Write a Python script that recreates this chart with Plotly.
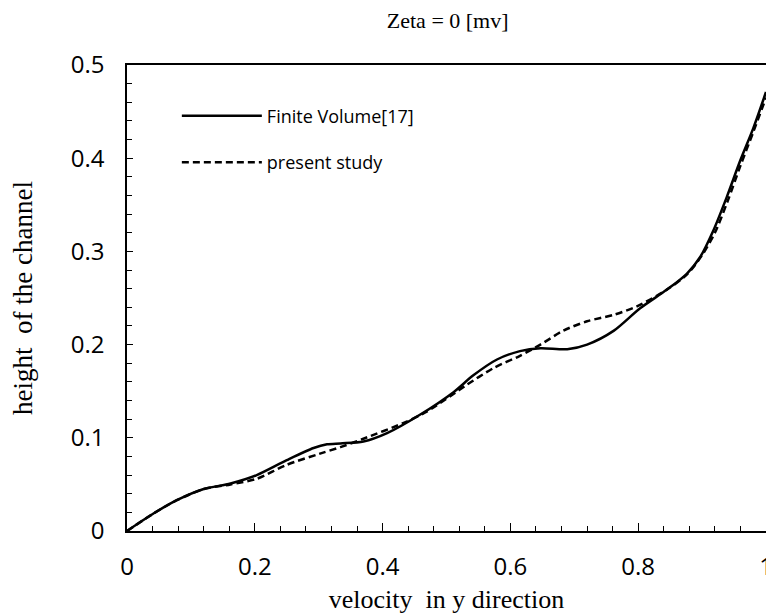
import plotly.graph_objects as go

# Finite Volume[17] (solid)
fv_x = [0, 0.042, 0.078, 0.12, 0.162, 0.203, 0.25, 0.292, 0.313, 0.334, 0.37, 0.407,
        0.459, 0.511, 0.542, 0.579, 0.615, 0.647, 0.689, 0.72, 0.762, 0.803, 0.845,
        0.876, 0.897, 0.918, 0.939, 0.96, 0.98, 1.0]
fv_y = [0, 0.019, 0.033, 0.045, 0.051, 0.060, 0.076, 0.089, 0.093, 0.094, 0.096, 0.105,
        0.125, 0.149, 0.167, 0.184, 0.193, 0.196, 0.195, 0.200, 0.215, 0.239, 0.259,
        0.276, 0.294, 0.323, 0.359, 0.398, 0.432, 0.471]

# present study (dashed)
ps_x = [0, 0.042, 0.078, 0.12, 0.162, 0.203, 0.25, 0.302, 0.334, 0.37, 0.433, 0.469,
        0.532, 0.574, 0.615, 0.647, 0.683, 0.72, 0.762, 0.798, 0.845, 0.876, 0.9, 0.92,
        0.94, 0.96, 0.98, 1.0]
ps_y = [0, 0.019, 0.033, 0.045, 0.050, 0.056, 0.071, 0.083, 0.090, 0.099, 0.116, 0.128,
        0.157, 0.175, 0.188, 0.200, 0.215, 0.225, 0.232, 0.241, 0.259, 0.275, 0.296, 0.32,
        0.354, 0.392, 0.428, 0.465]

serif = 'Liberation Serif, Times New Roman, serif'
sans = 'Open Sans, Lato, sans-serif'

fig = go.Figure()
fig.add_trace(go.Scatter(
    x=fv_x, y=fv_y, mode='lines', name='Finite Volume[17]', legendgroup='fv',
    line=dict(color='black', width=2.5, shape='spline', smoothing=0.8)
))
fig.add_trace(go.Scatter(
    x=ps_x, y=ps_y, mode='lines', name='present study', legendgroup='ps',
    line=dict(color='black', width=2.5, dash='7px,4px', shape='spline', smoothing=0.8)
))

# page body has an 8px margin, so the figure is a bit smaller than the window
fig.update_layout(
    width=766, height=606,
    plot_bgcolor='white', paper_bgcolor='white',
    margin=dict(l=119, r=8, t=57, b=83),
    title=dict(text='Zeta = 0 [mv]', x=0.574, xanchor='center', y=0.98, yanchor='middle',
               font=dict(family=serif, size=22, color='black')),
    legend=dict(x=0.078, y=0.93, xanchor='left', yanchor='top',
                font=dict(family=sans, size=18, color='black'),
                itemwidth=80, tracegroupgap=20, bgcolor='rgba(0,0,0,0)'),
    xaxis=dict(
        range=[0, 1], dtick=0.2, showgrid=False, zeroline=False, automargin=False,
        showline=True, linecolor='black', linewidth=1.5, mirror=True,
        ticks='inside', ticklen=8, tickcolor='black', ticklabelstandoff=13,
        tickfont=dict(family=sans, size=24, color='black'),
        minor=dict(dtick=0.04, ticks='inside', ticklen=5, tickcolor='black'),
        title=dict(text='velocity&nbsp; in y direction', standoff=10,
                   font=dict(family=serif, size=26, color='black')),
    ),
    yaxis=dict(
        range=[0, 0.5], dtick=0.1, showgrid=False, zeroline=False, automargin=False,
        showline=True, linecolor='black', linewidth=1.5, mirror=True,
        ticks='inside', ticklen=6, tickcolor='black', ticklabelstandoff=16,
        tickfont=dict(family=sans, size=24, color='black'),
        minor=dict(dtick=0.02, ticks='inside', ticklen=5, tickcolor='black'),
        title=dict(text='height&nbsp; of the channel', standoff=40,
                   font=dict(family=serif, size=27, color='black')),
    ),
)

fig.write_html("out.html")
